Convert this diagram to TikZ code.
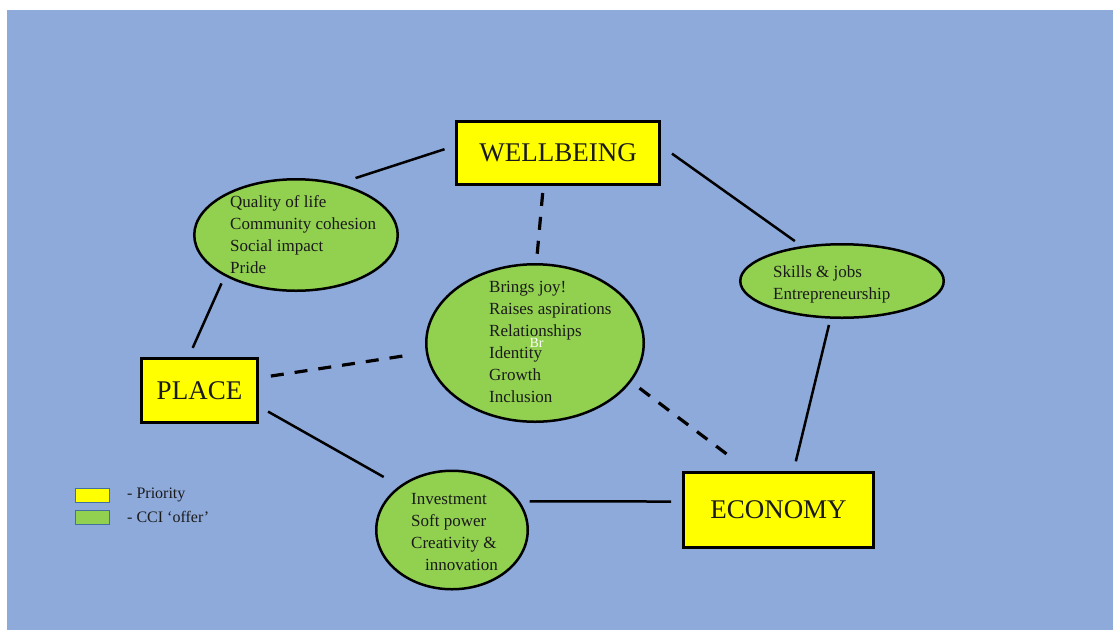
\documentclass[tikz,border=0pt]{standalone}
\usepackage{fontspec}
\setmainfont{Liberation Serif}
\usetikzlibrary{shapes.geometric}
\definecolor{bgblue}{HTML}{8EAADB}
\definecolor{cgreen}{HTML}{92D050}
\definecolor{cyellow}{HTML}{FFFF00}
\definecolor{legborder}{HTML}{41719C}
\definecolor{txt}{HTML}{1A1A1A}
\begin{document}
\begin{tikzpicture}[x=1pt,y=-1pt,
  prio/.style={draw=black, line width=3pt, fill=cyellow, inner sep=0pt, text=txt, font=\fontsize{27}{32}\selectfont},
  offer/.style={ellipse, draw=black, line width=2.5pt, fill=cgreen, inner sep=0pt},
  offertext/.style={anchor=west, align=left, inner sep=0pt, text=txt, font=\fontsize{17}{22}\selectfont},
  link/.style={line width=2.5pt},
  dlink/.style={line width=3.2pt, dash pattern=on 13pt off 11pt},
  legbox/.style={draw=legborder, line width=0.8pt, minimum width=34pt, minimum height=14pt, inner sep=0pt},
  legtext/.style={anchor=west, inner sep=0pt, text=txt, font=\fontsize{16}{19}\selectfont}]

\useasboundingbox (0,0) rectangle (1113,630);
\fill[white] (0,0) rectangle (1113,630);
\fill[bgblue] (7,10) rectangle (1113,630);

% priorities
\node[prio, minimum width=203pt, minimum height=63pt] (wb) at (558,153) {WELLBEING};
\node[prio, minimum width=116pt, minimum height=64pt] (pl) at (199.5,390.5) {PLACE};
\node[prio, minimum width=190pt, minimum height=75pt] (ec) at (778.5,510) {ECONOMY};

% offers
\node[offer, minimum width=203.5pt, minimum height=111.5pt] (e1) at (296,235) {};
\node[offer, minimum width=217.5pt, minimum height=157.5pt] (e2) at (535,343) {};
\node[offer, minimum width=203.5pt, minimum height=73.5pt] (e3) at (842,281) {};
\node[offer, minimum width=151.5pt, minimum height=118.5pt] (e4) at (452,530) {};

\node[offertext] (t1) at (230,235) {Quality of life\\Community cohesion\\Social impact\\Pride};
\node[offertext] (t2) at (489,342) {Brings joy!\\Raises aspirations\\Relationships\\Identity\\Growth\\Inclusion};
\node[offertext] (t3) at (773,284) {Skills \& jobs\\Entrepreneurship};
\node[offertext] (t4) at (411,532) {Investment\\Soft power\\Creativity \&\\\hspace*{14pt}innovation};
\node[text=white, inner sep=0pt, font=\fontsize{14}{16}\selectfont] (br) at (536.5,343) {Br};

% solid connectors
\draw[link, shorten <=17pt, shorten >=11pt] (e1.50) -- (wb.176);
\draw[link, shorten <=8pt, shorten >=10pt] (e1.210) -- (pl.108);
\draw[link, shorten <=13.5pt, shorten >=8.5pt] (wb.4) -- (e3.139);
\draw[link, shorten <=6.4pt, shorten >=10pt] (e3.253) -- (ec.69);
\draw[link, shorten <=10.4pt, shorten >=18pt] (pl.-15) -- (e4.140);
\draw[link, shorten <=10pt, shorten >=11pt] (e4.23) -- (ec.175);

% dashed connectors
\draw[dlink, shorten <=7pt, shorten >=5pt] (wb.246) -- (e2.89);
\draw[dlink, shorten <=12pt, shorten >=20pt] (pl.12) -- (e2.185);
\draw[dlink, shorten <=10.5pt, shorten >=26pt] (e2.338) -- (ec.127);

% legend
\node[legbox, fill=cyellow] (ly) at (92.5,495.5) {};
\node[legbox, fill=cgreen] (lg) at (92.5,517.5) {};
\node[legtext] (lyt) at (127,495) {- Priority};
\node[legtext] (lgt) at (127,517) {- CCI ‘offer’};
\end{tikzpicture}
\end{document}
